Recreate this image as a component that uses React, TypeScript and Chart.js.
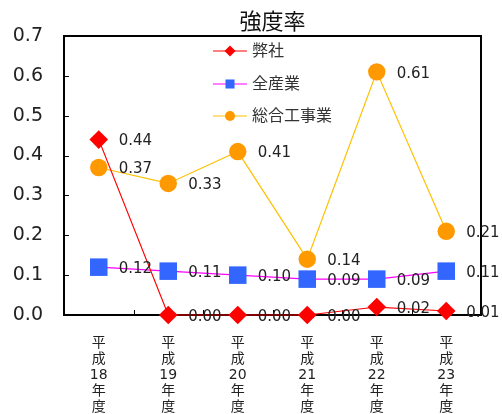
import React, { useEffect, useRef } from 'react';
import { Chart, registerables } from 'chart.js';

Chart.register(...registerables);

// 年度 labels, stacked one glyph group per line
const categories: string[][] = [
  ['平', '成', '18', '年', '度'],
  ['平', '成', '19', '年', '度'],
  ['平', '成', '20', '年', '度'],
  ['平', '成', '21', '年', '度'],
  ['平', '成', '22', '年', '度'],
  ['平', '成', '23', '年', '度'],
];

const seriesNames = ['弊社', '全産業', '総合工事業'];
const companyRates = [0.44, 0.0, 0.0, 0.0, 0.02, 0.01];
const allIndustryRates = [0.12, 0.11, 0.1, 0.09, 0.09, 0.11];
const constructionRates = [0.37, 0.33, 0.41, 0.14, 0.61, 0.21];

const yMin = 0;
const yMax = 0.7;
const yStep = 0.1;

const titleText = '強度率';

const FONT = "'DejaVu Sans', 'Noto Sans CJK JP', sans-serif";

type Marker = 'rectRot' | 'rect' | 'circle';

const styles: { line: string; fill: string; marker: Marker; radius: number; legendRadius: number }[] = [
  { line: '#ff0000', fill: '#ff0000', marker: 'rectRot', radius: 9.3, legendRadius: 5.5 },
  { line: '#ff00ff', fill: '#3366ff', marker: 'rect', radius: 12.4, legendRadius: 6.4 },
  { line: '#ffc000', fill: '#ff9900', marker: 'circle', radius: 8.7, legendRadius: 5 },
];

function drawMarker(ctx: CanvasRenderingContext2D, kind: Marker, x: number, y: number, r: number, color: string) {
  ctx.save();
  ctx.fillStyle = color;
  ctx.beginPath();
  if (kind === 'rectRot') {
    ctx.moveTo(x - r, y);
    ctx.lineTo(x, y - r);
    ctx.lineTo(x + r, y);
    ctx.lineTo(x, y + r);
    ctx.closePath();
  } else if (kind === 'rect') {
    const s = r * Math.SQRT1_2;
    ctx.rect(x - s, y - s, 2 * s, 2 * s);
  } else {
    ctx.arc(x, y, r, 0, Math.PI * 2);
  }
  ctx.fill();
  ctx.restore();
}

// Plot frame (top/right sides), short inward tick marks, value labels and legend
const framePlugin = {
  id: 'frameTicks',
  beforeDatasetsDraw(chart: any) {
    const { ctx, chartArea } = chart;
    const { left, right, top, bottom } = chartArea;
    const xs = chart.scales.x;
    const ys = chart.scales.y;
    ctx.save();
    ctx.strokeStyle = '#000';
    ctx.lineWidth = 2;
    ctx.beginPath();
    ctx.moveTo(left, top);
    ctx.lineTo(right, top);
    ctx.lineTo(right, bottom);
    ctx.stroke();

    ctx.lineWidth = 1;
    ctx.beginPath();
    for (let v = yMin + yStep; v < yMax - 1e-9; v += yStep) {
      const py = Math.round(ys.getPixelForValue(v)) + 0.5;
      ctx.moveTo(left, py);
      ctx.lineTo(left + 5, py);
    }
    const n = categories.length;
    for (let i = 1; i < n; i++) {
      const px = Math.round((xs.getPixelForValue(i - 1) + xs.getPixelForValue(i)) / 2) + 0.5;
      ctx.moveTo(px, bottom);
      ctx.lineTo(px, bottom - 5);
    }
    ctx.stroke();
    ctx.restore();
  },
  afterDatasetsDraw(chart: any) {
    const { ctx } = chart;
    ctx.save();
    ctx.font = `15px ${FONT}`;
    ctx.fillStyle = '#222';
    ctx.textAlign = 'left';
    ctx.textBaseline = 'middle';
    chart.data.datasets.forEach((ds: any, di: number) => {
      const meta = chart.getDatasetMeta(di);
      meta.data.forEach((pt: any, i: number) => {
        const v = ds.data[i] as number;
        ctx.fillText(v.toFixed(2), pt.x + 20, pt.y + 2);
      });
    });

    const rowsY = [51, 84, 116];
    const lx0 = 213;
    const lx1 = 247;
    chart.data.datasets.forEach((ds: any, di: number) => {
      const st = styles[di];
      const y = rowsY[di];
      ctx.strokeStyle = st.line;
      ctx.lineWidth = 1.2;
      ctx.beginPath();
      ctx.moveTo(lx0, y);
      ctx.lineTo(lx1, y);
      ctx.stroke();
      drawMarker(ctx, st.marker, (lx0 + lx1) / 2, y, st.legendRadius, st.fill);
      ctx.font = `16px ${FONT}`;
      ctx.fillStyle = '#333';
      ctx.textAlign = 'left';
      ctx.textBaseline = 'middle';
      ctx.fillText(ds.label, 252, y + 1);
    });
    ctx.restore();
  },
};

export default function App() {
  const canvasRef = useRef<HTMLCanvasElement | null>(null);

  useEffect(() => {
    const canvas = canvasRef.current;
    if (!canvas) return;
    const seriesData = [companyRates, allIndustryRates, constructionRates];
    const chart = new Chart(canvas, {
      type: 'line',
      data: {
        labels: categories,
        datasets: seriesData.map((d, i) => ({
          label: seriesNames[i],
          data: d,
          borderColor: styles[i].line,
          backgroundColor: styles[i].fill,
          borderWidth: 1.2,
          pointStyle: styles[i].marker,
          pointRadius: styles[i].radius,
          pointBackgroundColor: styles[i].fill,
          pointBorderWidth: 0,
          pointBorderColor: styles[i].fill,
          tension: 0,
          clip: false,
        })),
      },
      options: {
        responsive: false,
        animation: false,
        events: [],
        layout: { padding: { left: 0, right: 21, top: 0, bottom: 0 } },
        plugins: {
          legend: { display: false },
          tooltip: { enabled: false },
          title: {
            display: true,
            text: titleText,
            fullSize: false,
            color: '#111',
            font: { family: FONT, size: 22, weight: 'normal', lineHeight: 1.18 },
            padding: { top: 10, bottom: 0 },
          },
        },
        scales: {
          x: {
            type: 'category',
            offset: true,
            grid: { display: false, drawTicks: false },
            border: { display: true, color: '#000', width: 2 },
            ticks: {
              color: '#222',
              padding: 20,
              maxRotation: 0,
              autoSkip: false,
              font: { family: FONT, size: 14, lineHeight: 16 / 14 },
            },
            afterFit(scale: any) {
              scale.height = 99;
            },
          },
          y: {
            min: yMin,
            max: yMax,
            grid: { display: false, drawTicks: false },
            border: { display: true, color: '#000', width: 2 },
            ticks: {
              stepSize: yStep,
              color: '#222',
              padding: 21,
              font: { family: FONT, size: 19 },
              callback: (v: any) => Number(v).toFixed(1),
            },
            afterFit(scale: any) {
              scale.width = 64;
            },
          },
        },
      },
      plugins: [framePlugin],
    });
    return () => chart.destroy();
  }, []);

  return (
    <canvas
      ref={canvasRef}
      width={502}
      height={414}
      style={{ position: 'absolute', left: 0, top: 0, width: 502, height: 414, display: 'block' }}
    />
  );
}
